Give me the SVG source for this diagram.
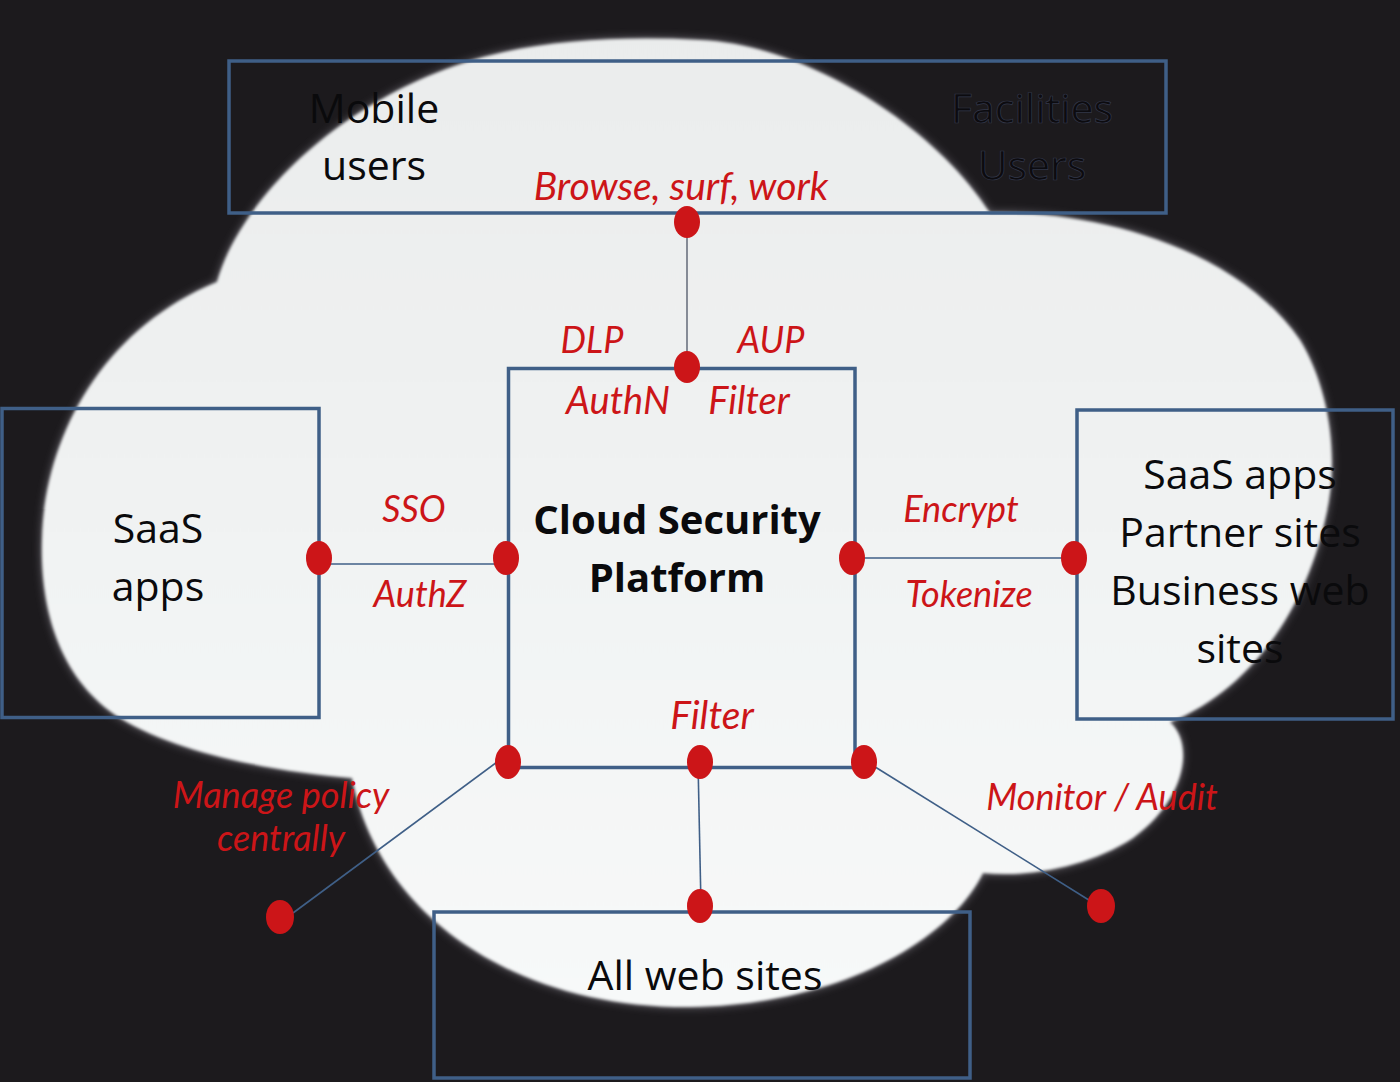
<svg xmlns="http://www.w3.org/2000/svg" width="1400" height="1082" viewBox="0 0 1400 1082">
<defs>
<linearGradient id="cg" x1="0" y1="0" x2="0" y2="1">
<stop offset="0" stop-color="#eaecec"/>
<stop offset="1" stop-color="#f7f9f9"/>
</linearGradient>
<filter id="halo" x="-10%" y="-10%" width="120%" height="120%"><feGaussianBlur stdDeviation="5"/></filter>
<filter id="soft" x="-5%" y="-5%" width="110%" height="110%"><feGaussianBlur stdDeviation="1.4"/></filter>
<path id="cloud" d="M217 282 C240 200 340 100 473 60 C540 40 620 36 700 40 C800 44 930 120 990 213 C1080 210 1230 240 1300 340 C1330 390 1340 460 1325 520 C1305 610 1250 690 1170 722 C1195 745 1185 800 1133 838 C1090 866 1030 878 983 873 C950 940 840 1005 690 1007 C520 1008 380 920 352 778 C280 772 180 755 120 718 C60 680 40 610 42 540 C44 440 100 330 217 282 Z"/>
</defs>
<style>
.box{fill:none;stroke:#3f5f87;stroke-width:3.5}
.dot{fill:#cc1518}
.con{stroke:#3f5f87;stroke-width:1.6;fill:none}
.blk{font-family:"Open Sans","Noto Sans","DejaVu Sans",sans-serif;font-size:41px;fill:#0a0a0c;text-anchor:middle}
.dim{font-family:"Open Sans","Noto Sans","DejaVu Sans",sans-serif;font-size:41px;fill:#0c0b0f;stroke:#33384a;stroke-width:0.7;text-anchor:middle}
.bold{font-weight:bold;font-size:40px}
.red{font-family:Lato,"Liberation Sans",sans-serif;font-style:italic;font-size:36px;fill:#cc1518;text-anchor:middle}
.big{font-size:38px}
</style>
<rect width="1400" height="1082" fill="#1c1a1d"/>
<g id="cloud-shape">
<use href="#cloud" fill="#8f8c95" opacity="0.75" filter="url(#halo)"/>
<use href="#cloud" fill="url(#cg)" filter="url(#soft)"/>
</g>
<g id="connectors">
<line x1="687" y1="222" x2="687" y2="367" stroke="#4e5566" stroke-width="1.3"/>
<line class="con" x1="312" y1="564" x2="500" y2="564"/>
<line class="con" x1="860" y1="558" x2="1062" y2="558"/>
<line class="con" x1="497" y1="762" x2="293" y2="913"/>
<line class="con" x1="698" y1="762" x2="701" y2="906"/>
<line class="con" x1="872" y1="765" x2="1092" y2="902"/>
</g>
<g id="node-top">
<rect class="box" x="229" y="61" width="937" height="152"/>
<text class="blk" x="374" y="123">Mobile</text>
<text class="blk" x="374" y="180">users</text>
<text class="dim" x="1032" y="123">Facilities</text>
<text class="dim" x="1032" y="180">Users</text>
<text class="red" x="681" y="200" style="font-size:39px">Browse, surf, work</text>
</g>
<g id="node-saas-left">
<rect class="box" x="2" y="408.5" width="317" height="309"/>
<text class="blk" x="158" y="543">SaaS</text>
<text class="blk" x="158" y="601">apps</text>
</g>
<g id="node-platform">
<rect class="box" x="508.5" y="368.5" width="346.5" height="399"/>
<text class="blk bold" x="677" y="534">Cloud Security</text>
<text class="blk bold" x="677" y="592">Platform</text>
</g>
<g id="node-saas-right">
<rect class="box" x="1077" y="410" width="316" height="309"/>
<text class="blk" x="1240" y="489">SaaS apps</text>
<text class="blk" x="1240" y="547">Partner sites</text>
<text class="blk" x="1240" y="605">Business web</text>
<text class="blk" x="1240" y="663">sites</text>
</g>
<g id="node-all-web">
<rect class="box" x="434" y="912" width="536" height="166"/>
<text class="blk" x="705" y="990">All web sites</text>
</g>
<g id="labels">
<text class="red" x="592" y="353">DLP</text>
<text class="red" x="771" y="353">AUP</text>
<text class="red big" x="618" y="414">AuthN</text>
<text class="red big" x="749" y="414">Filter</text>
<text class="red" x="414" y="522">SSO</text>
<text class="red" x="420" y="607">AuthZ</text>
<text class="red" x="961" y="522">Encrypt</text>
<text class="red" x="969" y="607">Tokenize</text>
<text class="red" x="712" y="729" style="font-size:39px">Filter</text>
<text class="red" x="281" y="808">Manage policy</text>
<text class="red" x="281" y="851">centrally</text>
<text class="red" x="1102" y="810">Monitor / Audit</text>
</g>
<g id="dots">
<ellipse class="dot" cx="687" cy="222" rx="13" ry="16"/>
<ellipse class="dot" cx="687" cy="367" rx="13" ry="16"/>
<ellipse class="dot" cx="319" cy="558" rx="13" ry="17"/>
<ellipse class="dot" cx="506" cy="558" rx="13" ry="17"/>
<ellipse class="dot" cx="852" cy="558" rx="13" ry="17"/>
<ellipse class="dot" cx="1074" cy="558" rx="13" ry="17"/>
<ellipse class="dot" cx="508" cy="762" rx="13" ry="17"/>
<ellipse class="dot" cx="700" cy="762" rx="13" ry="17"/>
<ellipse class="dot" cx="864" cy="762" rx="13" ry="17"/>
<ellipse class="dot" cx="280" cy="917" rx="14" ry="17"/>
<ellipse class="dot" cx="700" cy="906" rx="13" ry="17"/>
<ellipse class="dot" cx="1101" cy="906" rx="14" ry="17"/>
</g>
</svg>
